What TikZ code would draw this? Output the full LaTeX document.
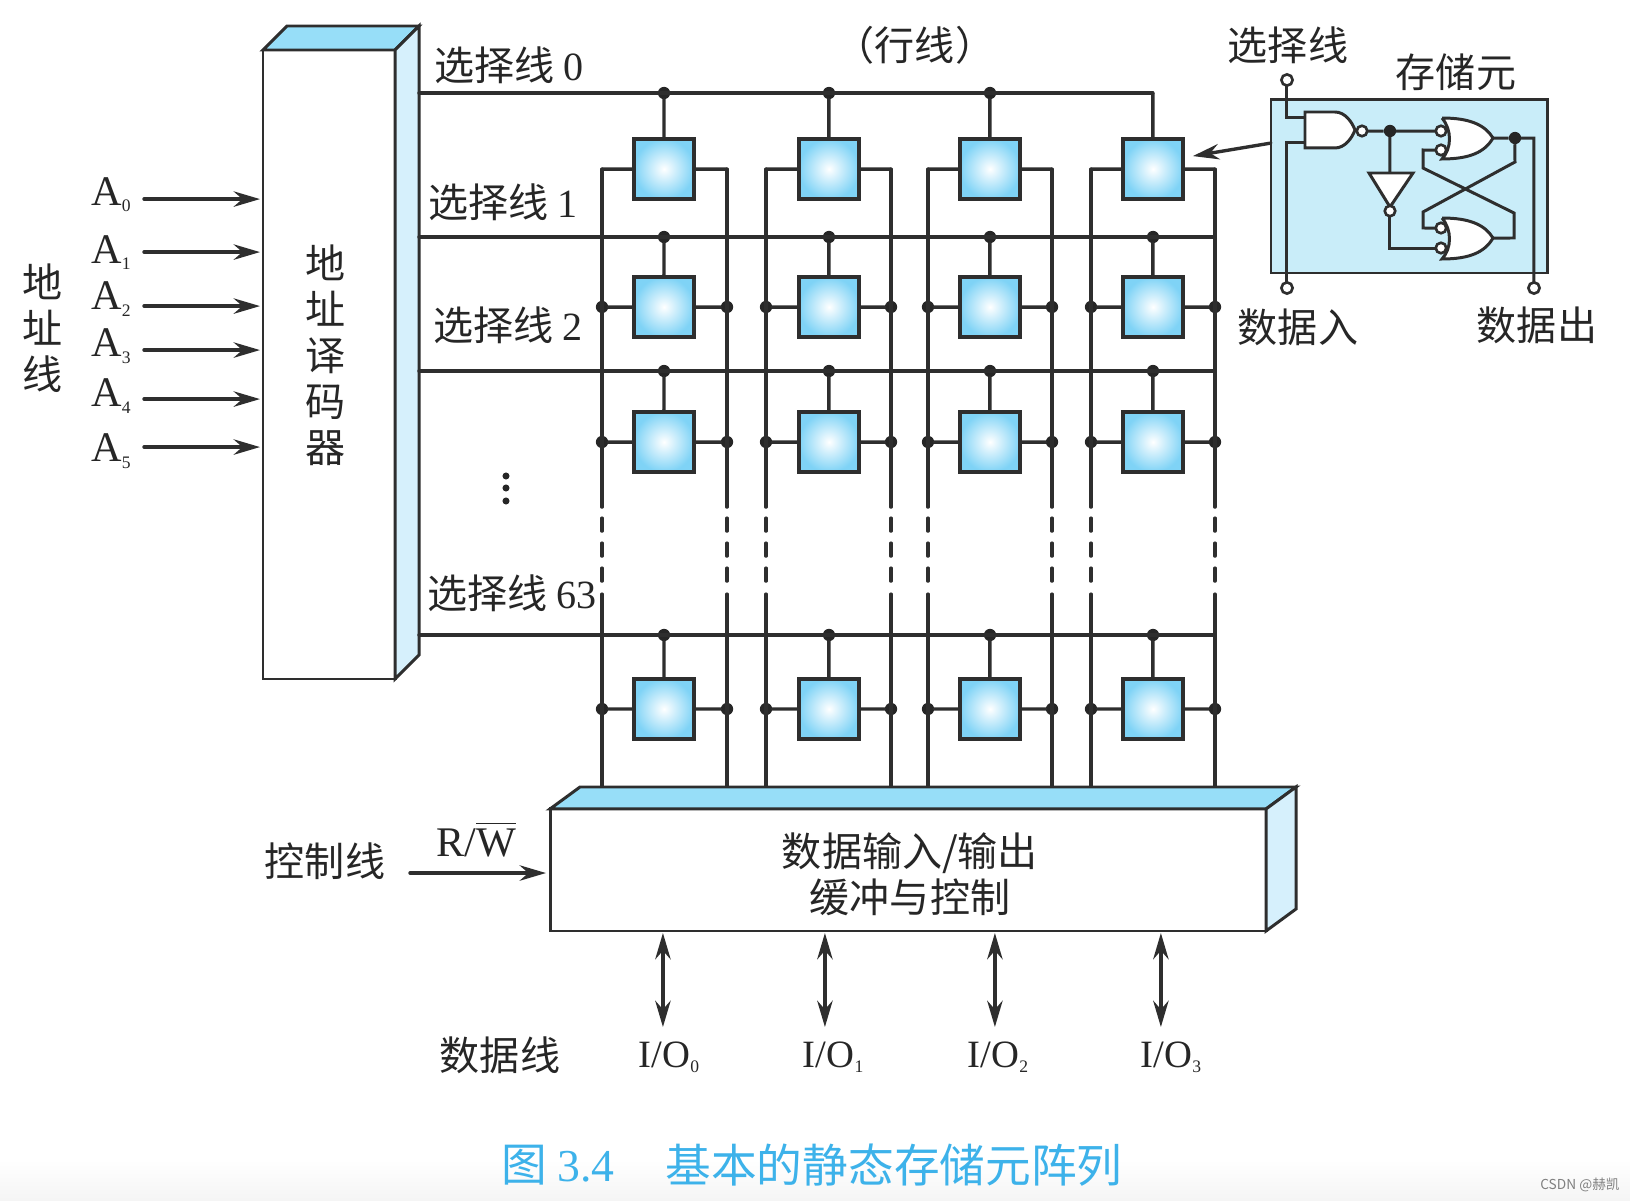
\documentclass[tikz,border=0pt]{standalone}
\usepackage{amsmath, amsthm, amssymb}
\usepackage{fontspec}
\usepackage{tkz-graph}
\usetikzlibrary{arrows.meta}
\usetikzlibrary{shapes}
\setmainfont{Liberation Serif}
\newfontfamily\cjk{Noto Sans CJK SC}
\definecolor{lineGray}{HTML}{2E2E2E}
\definecolor{topBlue}{HTML}{97DEF8}
\definecolor{sideBlue}{HTML}{D6F0FC}
\definecolor{cellBlue}{HTML}{7FD3F6}
\definecolor{insetBlue}{HTML}{C9EDF9}
\definecolor{captionBlue}{HTML}{3DB2EA}
\begin{document}
\begin{tikzpicture}[scale = 10, line width = 0.85pt, draw = lineGray]
	\tikzstyle{VertexStyle} = []
	\tikzstyle{EdgeStyle} = [draw = lineGray, line width = 0.95pt, line cap = round]
	\tikzstyle{cellStyle}=[shape = rectangle, minimum size = 0.6cm, inner sep = 0pt, draw = lineGray, line width = 0.9pt, shading = radial, inner color = white, outer color = cellBlue]
	\tikzstyle{dotStyle}=[shape = circle, minimum size = 3.5pt, inner sep = 0pt, fill = black!85]
	\tikzstyle{smallDotStyle}=[shape = circle, minimum size = 2pt, inner sep = 0pt, fill = black!85]
	\tikzstyle{pinStyle}=[shape = coordinate]
	\tikzstyle{bubbleStyle}=[shape = circle, minimum size = 3pt, inner sep = 0pt, draw = lineGray, fill = white, line width = 0.75pt]
	\tikzstyle{termStyle}=[shape = circle, minimum size = 3.2pt, inner sep = 0pt, draw = lineGray, fill = white, line width = 0.75pt]
	\tikzstyle{bitLine}=[line cap = butt, dash pattern = on 3.38cm off 0.11cm on 0.13cm off 0.12cm on 0.13cm off 0.12cm on 0.13cm off 0.13cm on 1.94cm]
	\tikzstyle{arrowStyle}=[-{Stealth[length = 7.5pt, width = 4.4pt, inset = 2.5pt]}]
	\tikzstyle{bothStyle}=[{Stealth[length = 7.5pt, width = 4.4pt, inset = 2.5pt]}-{Stealth[length = 7.5pt, width = 4.4pt, inset = 2.5pt]}]
	\tikzstyle{cjkText}=[inner sep = 0pt, text = black!85, align = center, font = \cjk\fontsize{11.4}{13.1}\selectfont]
	\tikzstyle{latinText}=[inner sep = 0pt, text = black!85, font = \rmfamily\fontsize{12}{14}\selectfont]
	\tikzstyle{ioText}=[inner sep = 0pt, text = black!85, font = \rmfamily\fontsize{11}{13}\selectfont]
	\tikzstyle{captionText}=[inner sep = 0pt, text = captionBlue, font = \cjk\fontsize{13}{15}\selectfont]
	\useasboundingbox (0,0) rectangle (1.63,1.2);
	\shade[top color = white, bottom color = black!4] (0,0) rectangle (1.63,0.04);
	\fill[white] (0,0.04) rectangle (1.63,1.2);
	\filldraw[fill = white] (0.263,1.150) rectangle (0.395,0.521);
	\filldraw[fill = topBlue] (0.263,1.150) -- (0.287,1.174) -- (0.419,1.174) -- (0.395,1.150) -- cycle;
	\filldraw[fill = sideBlue] (0.395,1.150) -- (0.419,1.174) -- (0.419,0.545) -- (0.395,0.521) -- cycle;
	\filldraw[fill = insetBlue] (1.271,1.100) rectangle (1.547,0.927);
	\Vertex[style = cellStyle, x = 0.664, y = 1.031, NoLabel]{c11}
	\Vertex[style = cellStyle, x = 0.829, y = 1.031, NoLabel]{c12}
	\Vertex[style = cellStyle, x = 0.990, y = 1.031, NoLabel]{c13}
	\Vertex[style = cellStyle, x = 1.153, y = 1.031, NoLabel]{c14}
	\Vertex[style = cellStyle, x = 0.664, y = 0.893, NoLabel]{c21}
	\Vertex[style = cellStyle, x = 0.829, y = 0.893, NoLabel]{c22}
	\Vertex[style = cellStyle, x = 0.990, y = 0.893, NoLabel]{c23}
	\Vertex[style = cellStyle, x = 1.153, y = 0.893, NoLabel]{c24}
	\Vertex[style = cellStyle, x = 0.664, y = 0.758, NoLabel]{c31}
	\Vertex[style = cellStyle, x = 0.829, y = 0.758, NoLabel]{c32}
	\Vertex[style = cellStyle, x = 0.990, y = 0.758, NoLabel]{c33}
	\Vertex[style = cellStyle, x = 1.153, y = 0.758, NoLabel]{c34}
	\Vertex[style = cellStyle, x = 0.664, y = 0.491, NoLabel]{c41}
	\Vertex[style = cellStyle, x = 0.829, y = 0.491, NoLabel]{c42}
	\Vertex[style = cellStyle, x = 0.990, y = 0.491, NoLabel]{c43}
	\Vertex[style = cellStyle, x = 1.153, y = 0.491, NoLabel]{c44}
	\Vertex[style = pinStyle, x = 0.419, y = 1.107, NoLabel]{d1}
	\Vertex[style = pinStyle, x = 0.419, y = 0.963, NoLabel]{d2}
	\Vertex[style = pinStyle, x = 0.419, y = 0.829, NoLabel]{d3}
	\Vertex[style = pinStyle, x = 0.419, y = 0.565, NoLabel]{d4}
	\Vertex[style = pinStyle, x = 1.153, y = 1.107, NoLabel]{e1}
	\Vertex[style = pinStyle, x = 1.215, y = 0.963, NoLabel]{e2}
	\Vertex[style = pinStyle, x = 1.215, y = 0.829, NoLabel]{e3}
	\Vertex[style = pinStyle, x = 1.215, y = 0.565, NoLabel]{e4}
	\Vertex[style = dotStyle, x = 0.664, y = 1.107, NoLabel]{s11}
	\Vertex[style = dotStyle, x = 0.829, y = 1.107, NoLabel]{s12}
	\Vertex[style = dotStyle, x = 0.990, y = 1.107, NoLabel]{s13}
	\Vertex[style = dotStyle, x = 0.664, y = 0.963, NoLabel]{s21}
	\Vertex[style = dotStyle, x = 0.829, y = 0.963, NoLabel]{s22}
	\Vertex[style = dotStyle, x = 0.990, y = 0.963, NoLabel]{s23}
	\Vertex[style = dotStyle, x = 1.153, y = 0.963, NoLabel]{s24}
	\Vertex[style = dotStyle, x = 0.664, y = 0.829, NoLabel]{s31}
	\Vertex[style = dotStyle, x = 0.829, y = 0.829, NoLabel]{s32}
	\Vertex[style = dotStyle, x = 0.990, y = 0.829, NoLabel]{s33}
	\Vertex[style = dotStyle, x = 1.153, y = 0.829, NoLabel]{s34}
	\Vertex[style = dotStyle, x = 0.664, y = 0.565, NoLabel]{s41}
	\Vertex[style = dotStyle, x = 0.829, y = 0.565, NoLabel]{s42}
	\Vertex[style = dotStyle, x = 0.990, y = 0.565, NoLabel]{s43}
	\Vertex[style = dotStyle, x = 1.153, y = 0.565, NoLabel]{s44}
	\Vertex[style = pinStyle, x = 0.602, y = 1.031, NoLabel]{tl1}
	\Vertex[style = pinStyle, x = 0.727, y = 1.031, NoLabel]{tr1}
	\Vertex[style = pinStyle, x = 0.766, y = 1.031, NoLabel]{tl2}
	\Vertex[style = pinStyle, x = 0.891, y = 1.031, NoLabel]{tr2}
	\Vertex[style = pinStyle, x = 0.928, y = 1.031, NoLabel]{tl3}
	\Vertex[style = pinStyle, x = 1.052, y = 1.031, NoLabel]{tr3}
	\Vertex[style = pinStyle, x = 1.091, y = 1.031, NoLabel]{tl4}
	\Vertex[style = pinStyle, x = 1.215, y = 1.031, NoLabel]{tr4}
	\Vertex[style = pinStyle, x = 0.602, y = 0.413, NoLabel]{bl1}
	\Vertex[style = pinStyle, x = 0.727, y = 0.413, NoLabel]{br1}
	\Vertex[style = pinStyle, x = 0.766, y = 0.413, NoLabel]{bl2}
	\Vertex[style = pinStyle, x = 0.891, y = 0.413, NoLabel]{br2}
	\Vertex[style = pinStyle, x = 0.928, y = 0.413, NoLabel]{bl3}
	\Vertex[style = pinStyle, x = 1.052, y = 0.413, NoLabel]{br3}
	\Vertex[style = pinStyle, x = 1.091, y = 0.413, NoLabel]{bl4}
	\Vertex[style = pinStyle, x = 1.215, y = 0.413, NoLabel]{br4}
	\Vertex[style = dotStyle, x = 0.602, y = 0.893, NoLabel]{jl21}
	\Vertex[style = dotStyle, x = 0.727, y = 0.893, NoLabel]{jr21}
	\Vertex[style = dotStyle, x = 0.766, y = 0.893, NoLabel]{jl22}
	\Vertex[style = dotStyle, x = 0.891, y = 0.893, NoLabel]{jr22}
	\Vertex[style = dotStyle, x = 0.928, y = 0.893, NoLabel]{jl23}
	\Vertex[style = dotStyle, x = 1.052, y = 0.893, NoLabel]{jr23}
	\Vertex[style = dotStyle, x = 1.091, y = 0.893, NoLabel]{jl24}
	\Vertex[style = dotStyle, x = 1.215, y = 0.893, NoLabel]{jr24}
	\Vertex[style = dotStyle, x = 0.602, y = 0.758, NoLabel]{jl31}
	\Vertex[style = dotStyle, x = 0.727, y = 0.758, NoLabel]{jr31}
	\Vertex[style = dotStyle, x = 0.766, y = 0.758, NoLabel]{jl32}
	\Vertex[style = dotStyle, x = 0.891, y = 0.758, NoLabel]{jr32}
	\Vertex[style = dotStyle, x = 0.928, y = 0.758, NoLabel]{jl33}
	\Vertex[style = dotStyle, x = 1.052, y = 0.758, NoLabel]{jr33}
	\Vertex[style = dotStyle, x = 1.091, y = 0.758, NoLabel]{jl34}
	\Vertex[style = dotStyle, x = 1.215, y = 0.758, NoLabel]{jr34}
	\Vertex[style = dotStyle, x = 0.602, y = 0.491, NoLabel]{jl41}
	\Vertex[style = dotStyle, x = 0.727, y = 0.491, NoLabel]{jr41}
	\Vertex[style = dotStyle, x = 0.766, y = 0.491, NoLabel]{jl42}
	\Vertex[style = dotStyle, x = 0.891, y = 0.491, NoLabel]{jr42}
	\Vertex[style = dotStyle, x = 0.928, y = 0.491, NoLabel]{jl43}
	\Vertex[style = dotStyle, x = 1.052, y = 0.491, NoLabel]{jr43}
	\Vertex[style = dotStyle, x = 1.091, y = 0.491, NoLabel]{jl44}
	\Vertex[style = dotStyle, x = 1.215, y = 0.491, NoLabel]{jr44}
	\Edge(d1)(e1)
	\Edge(d2)(e2)
	\Edge(d3)(e3)
	\Edge(d4)(e4)
	\Edge(e1)(c14)
	\Edge(s11)(c11)
	\Edge(s12)(c12)
	\Edge(s13)(c13)
	\Edge(s21)(c21)
	\Edge(s22)(c22)
	\Edge(s23)(c23)
	\Edge(s24)(c24)
	\Edge(s31)(c31)
	\Edge(s32)(c32)
	\Edge(s33)(c33)
	\Edge(s34)(c34)
	\Edge(s41)(c41)
	\Edge(s42)(c42)
	\Edge(s43)(c43)
	\Edge(s44)(c44)
	\Edge[style = bitLine](tl1)(bl1)
	\Edge[style = bitLine](tr1)(br1)
	\Edge[style = bitLine](tl2)(bl2)
	\Edge[style = bitLine](tr2)(br2)
	\Edge[style = bitLine](tl3)(bl3)
	\Edge[style = bitLine](tr3)(br3)
	\Edge[style = bitLine](tl4)(bl4)
	\Edge[style = bitLine](tr4)(br4)
	\Edge(tl1)(c11)
	\Edge(tr1)(c11)
	\Edge(tl2)(c12)
	\Edge(tr2)(c12)
	\Edge(tl3)(c13)
	\Edge(tr3)(c13)
	\Edge(tl4)(c14)
	\Edge(tr4)(c14)
	\Edge(jl21)(c21)
	\Edge(jr21)(c21)
	\Edge(jl22)(c22)
	\Edge(jr22)(c22)
	\Edge(jl23)(c23)
	\Edge(jr23)(c23)
	\Edge(jl24)(c24)
	\Edge(jr24)(c24)
	\Edge(jl31)(c31)
	\Edge(jr31)(c31)
	\Edge(jl32)(c32)
	\Edge(jr32)(c32)
	\Edge(jl33)(c33)
	\Edge(jr33)(c33)
	\Edge(jl34)(c34)
	\Edge(jr34)(c34)
	\Edge(jl41)(c41)
	\Edge(jr41)(c41)
	\Edge(jl42)(c42)
	\Edge(jr42)(c42)
	\Edge(jl43)(c43)
	\Edge(jr43)(c43)
	\Edge(jl44)(c44)
	\Edge(jr44)(c44)
	\filldraw[fill = white] (0.550,0.391) rectangle (1.266,0.269);
	\filldraw[fill = topBlue] (0.550,0.391) -- (0.580,0.413) -- (1.296,0.413) -- (1.266,0.391) -- cycle;
	\filldraw[fill = sideBlue] (1.266,0.391) -- (1.296,0.413) -- (1.296,0.291) -- (1.266,0.269) -- cycle;
	\Vertex[style = dotStyle, x = 1.390, y = 1.069, NoLabel]{q1}
	\Vertex[style = dotStyle, x = 1.515, y = 1.062, NoLabel]{q2}
	\Vertex[style = pinStyle, x = 1.534, y = 1.062, NoLabel]{q3}
	\Vertex[style = pinStyle, x = 1.493, y = 1.062, NoLabel]{tip1}
	\Vertex[style = pinStyle, x = 1.493, y = 0.962, NoLabel]{tip2}
	\Vertex[style = pinStyle, x = 1.305, y = 1.083, NoLabel]{na}
	\Vertex[style = pinStyle, x = 1.305, y = 1.058, NoLabel]{nb}
	\Vertex[style = pinStyle, x = 1.390, y = 1.027, NoLabel]{tri}
	\Vertex[style = pinStyle, x = 1.271, y = 1.057, NoLabel]{fromCell}
	\Vertex[style = pinStyle, x = 1.193, y = 1.044, NoLabel]{toCell}
	\Edge[style = arrowStyle](fromCell)(toCell)
	\draw[fill = white] (1.305,1.088) -- (1.335,1.088) .. controls (1.345,1.088) and (1.352,1.078) .. (1.355,1.070) .. controls (1.352,1.062) and (1.345,1.052) .. (1.335,1.052) -- (1.305,1.052) -- cycle;
	\draw[fill = white] (1.442,1.082) .. controls (1.470,1.082) and (1.485,1.075) .. (1.493,1.062) .. controls (1.485,1.048) and (1.470,1.041) .. (1.442,1.041) .. controls (1.452,1.052) and (1.452,1.070) .. (1.442,1.082);
	\draw[fill = white] (1.442,0.982) .. controls (1.470,0.982) and (1.485,0.975) .. (1.493,0.962) .. controls (1.485,0.948) and (1.470,0.941) .. (1.442,0.941) .. controls (1.452,0.952) and (1.452,0.970) .. (1.442,0.982);
	\draw[fill = white] (1.369,1.027) -- (1.413,1.027) -- (1.390,0.993) -- cycle;
	\Vertex[style = termStyle, x = 1.287, y = 1.120, NoLabel]{termSel}
	\Vertex[style = termStyle, x = 1.287, y = 0.912, NoLabel]{termIn}
	\Vertex[style = termStyle, x = 1.534, y = 0.912, NoLabel]{termOut}
	\Vertex[style = bubbleStyle, x = 1.362, y = 1.069, NoLabel]{bn}
	\Vertex[style = bubbleStyle, x = 1.441, y = 1.069, NoLabel]{b1}
	\Vertex[style = bubbleStyle, x = 1.441, y = 1.050, NoLabel]{b2}
	\Vertex[style = bubbleStyle, x = 1.441, y = 0.972, NoLabel]{b3}
	\Vertex[style = bubbleStyle, x = 1.441, y = 0.952, NoLabel]{b4}
	\Vertex[style = bubbleStyle, x = 1.390, y = 0.989, NoLabel]{bi}
	\draw (termSel) |- (na);
	\draw (termIn) |- (nb);
	\draw (bn) -- (q1) -- (b1);
	\draw (q1) -- (tri);
	\draw (bi) |- (b4);
	\draw (tip1) -- (q2) -- (q3) -- (termOut);
	\draw (q2) -- (1.515,1.038) -- (1.423,0.988) -- (1.423,0.972) -- (b3);
	\draw (b2) -- (1.423,1.050) -- (1.423,1.032) -- (1.514,0.987) -- (1.514,0.962) -- (tip2);
	\Vertex[style = pinStyle, x = 0.144, y = 1.001, NoLabel]{a0}
	\Vertex[style = pinStyle, x = 0.144, y = 0.948, NoLabel]{a1}
	\Vertex[style = pinStyle, x = 0.144, y = 0.894, NoLabel]{a2}
	\Vertex[style = pinStyle, x = 0.144, y = 0.850, NoLabel]{a3}
	\Vertex[style = pinStyle, x = 0.144, y = 0.801, NoLabel]{a4}
	\Vertex[style = pinStyle, x = 0.144, y = 0.753, NoLabel]{a5}
	\Vertex[style = pinStyle, x = 0.260, y = 1.001, NoLabel]{i0}
	\Vertex[style = pinStyle, x = 0.260, y = 0.948, NoLabel]{i1}
	\Vertex[style = pinStyle, x = 0.260, y = 0.894, NoLabel]{i2}
	\Vertex[style = pinStyle, x = 0.260, y = 0.850, NoLabel]{i3}
	\Vertex[style = pinStyle, x = 0.260, y = 0.801, NoLabel]{i4}
	\Vertex[style = pinStyle, x = 0.260, y = 0.753, NoLabel]{i5}
	\Edge[style = arrowStyle](a0)(i0)
	\Edge[style = arrowStyle](a1)(i1)
	\Edge[style = arrowStyle](a2)(i2)
	\Edge[style = arrowStyle](a3)(i3)
	\Edge[style = arrowStyle](a4)(i4)
	\Edge[style = arrowStyle](a5)(i5)
	\Vertex[style = pinStyle, x = 0.410, y = 0.327, NoLabel]{rw0}
	\Vertex[style = pinStyle, x = 0.546, y = 0.327, NoLabel]{rw1}
	\Edge[style = arrowStyle](rw0)(rw1)
	\Vertex[style = pinStyle, x = 0.663, y = 0.267, NoLabel]{ua0}
	\Vertex[style = pinStyle, x = 0.663, y = 0.173, NoLabel]{ub0}
	\Vertex[style = pinStyle, x = 0.825, y = 0.267, NoLabel]{ua1}
	\Vertex[style = pinStyle, x = 0.825, y = 0.173, NoLabel]{ub1}
	\Vertex[style = pinStyle, x = 0.995, y = 0.267, NoLabel]{ua2}
	\Vertex[style = pinStyle, x = 0.995, y = 0.173, NoLabel]{ub2}
	\Vertex[style = pinStyle, x = 1.161, y = 0.267, NoLabel]{ua3}
	\Vertex[style = pinStyle, x = 1.161, y = 0.173, NoLabel]{ub3}
	\Edge[style = bothStyle](ua0)(ub0)
	\Edge[style = bothStyle](ua1)(ub1)
	\Edge[style = bothStyle](ua2)(ub2)
	\Edge[style = bothStyle](ua3)(ub3)
	\Vertex[style = smallDotStyle, x = 0.506, y = 0.724, NoLabel]{v1}
	\Vertex[style = smallDotStyle, x = 0.506, y = 0.712, NoLabel]{v2}
	\Vertex[style = smallDotStyle, x = 0.506, y = 0.699, NoLabel]{v3}
	\node[cjkText] (addrLine) at (0.043,0.872) {地\\址\\线};
	\node[cjkText] (decoder) at (0.326,0.845) {地\\址\\译\\码\\器};
	\node[cjkText] (sel0) at (0.509,1.135) {选择线 {\rmfamily 0}};
	\node[cjkText] (sel1) at (0.503,0.998) {选择线 {\rmfamily 1}};
	\node[cjkText] (sel2) at (0.508,0.875) {选择线 {\rmfamily 2}};
	\node[cjkText] (sel63) at (0.512,0.607) {选择线 {\rmfamily 63}};
	\node[cjkText] (rowLine) at (0.915,1.155) {（行线）};
	\node[cjkText] (selTop) at (1.288,1.155) {选择线};
	\node[cjkText] (cellName) at (1.456,1.128) {存储元};
	\node[cjkText] (dataIn) at (1.298,0.873) {数据入};
	\node[cjkText] (dataOut) at (1.537,0.875) {数据出};
	\node[cjkText] (ctrlLine) at (0.325,0.339) {控制线};
	\node[cjkText] (ioBuf) at (0.910,0.326) {数据输入/输出\\缓冲与控制};
	\node[cjkText] (dataLine) at (0.500,0.145) {数据线};
	\node[latinText, anchor = base west] (la0) at (0.090,0.995) {A\textsubscript{\tiny 0}};
	\node[latinText, anchor = base west] (la1) at (0.090,0.937) {A\textsubscript{\tiny 1}};
	\node[latinText, anchor = base west] (la2) at (0.090,0.890) {A\textsubscript{\tiny 2}};
	\node[latinText, anchor = base west] (la3) at (0.090,0.843) {A\textsubscript{\tiny 3}};
	\node[latinText, anchor = base west] (la4) at (0.090,0.793) {A\textsubscript{\tiny 4}};
	\node[latinText, anchor = base west] (la5) at (0.090,0.738) {A\textsubscript{\tiny 5}};
	\node[latinText, anchor = base] (rwName) at (0.476,0.343) {R/$\overline{\mbox{W}}$};
	\node[ioText, anchor = base] (io0) at (0.670,0.133) {I/O\textsubscript{\tiny 0}};
	\node[ioText, anchor = base] (io1) at (0.834,0.133) {I/O\textsubscript{\tiny 1}};
	\node[ioText, anchor = base] (io2) at (0.999,0.133) {I/O\textsubscript{\tiny 2}};
	\node[ioText, anchor = base] (io3) at (1.172,0.133) {I/O\textsubscript{\tiny 3}};
	\node[captionText] (capNum) at (0.558,0.035) {图 {\rmfamily 3.4}};
	\node[captionText] (capText) at (0.894,0.035) {基本的静态存储元阵列};
	\node[inner sep = 0pt, text = black!50, font = \cjk\fontsize{3.9}{5}\selectfont] (mark) at (1.580,0.015) {CSDN @赫凯};
\end{tikzpicture}
\end{document}
